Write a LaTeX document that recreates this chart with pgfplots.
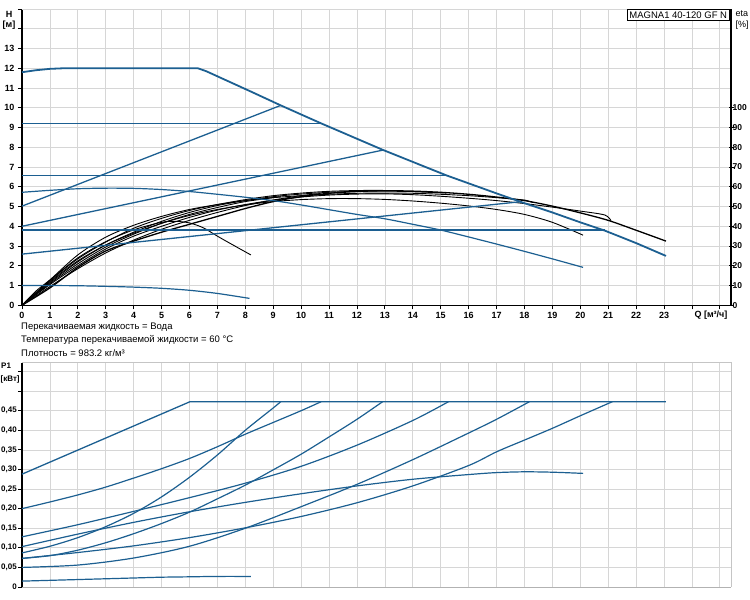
\documentclass[border=0pt]{standalone}
\usepackage{fontspec}
\setmainfont{Liberation Sans}
\usepackage{pgfplots}
\pgfplotsset{compat=1.18}
\definecolor{pblue}{RGB}{28,95,145}
\definecolor{gridc}{RGB}{214,214,214}
\pgfplotsset{
  base/.style={scale only axis, width=709pt, xmin=0, xmax=25.4,
    axis x line*=bottom, axis y line*=left,
    axis line style={black, line width=1.2pt, -},
    grid=major, major grid style={gridc, line width=0.7pt},
    tick style={black, line width=0.8pt}, major tick length=4pt, tick align=outside,
    ticklabel style={font=\fontsize{9}{10}\selectfont\bfseries},
    xtick={0,...,25}, clip=false},
  bl/.style={pblue, line width=1.3pt, sharp plot},
  bls/.style={pblue, line width=1.2pt, smooth, tension=0.5},
  bk/.style={black, line width=0.9pt, smooth, tension=0.5},
}
\begin{document}
\begin{tikzpicture}[x=1pt,y=1pt]
% ---------------- top chart ----------------
\begin{axis}[base, at={(22pt,294.7pt)}, anchor=origin, height=296.3pt,
  ymin=0, ymax=15, ytick={0,...,15},
  yticklabels={0,1,2,3,4,5,6,7,8,9,10,11,12,13,{},{}},
  xticklabels={0,1,2,3,4,5,6,7,8,9,10,11,12,13,14,15,16,17,18,19,20,21,22,23,{},{}},
  xticklabel style={yshift=1pt}]
% efficiency curves (eta/10)
\addplot[bk] coordinates {(0,0)(0.5,0.72)(1,1.28)(2,2.4)(3,3.22)(4,3.82)(5,4.2)(5.5,4.25)(6,4.17)(6.5,3.92)(7,3.5)(7.5,3.1)(8.2,2.55)};
\addplot[bk] coordinates {(0,0)(1,1.2)(2,2.25)(3,3.05)(4,3.65)(5,4.15)(6,4.55)(7,4.85)(8,5.08)(9,5.25)(10,5.35)(11,5.4)(12,5.4)(13,5.36)(14,5.28)(15,5.17)(16,5.03)(17,4.85)(18,4.6)(19,4.2)(20.1,3.55)};
\addplot[bk] coordinates {(0,0)(1,1.1)(2,2.1)(3,2.95)(4,3.6)(5,4.15)(6,4.6)(7,4.95)(8,5.25)(9.27,5.5)};
\addplot[bk] coordinates {(0,0)(1,0.95)(2,1.85)(3,2.65)(4,3.3)(5,3.85)(6,4.3)(7,4.7)(8,5.05)(9,5.33)(10,5.55)(10.7,5.66)};
\addplot[bk] coordinates {(0,0)(1,1.25)(2,2.35)(3,3.2)(4,3.9)(5,4.4)(6,4.8)(7,5.1)(8,5.35)(9,5.55)(10,5.68)(11,5.77)(12,5.81)(12.94,5.82)};
\addplot[bk] coordinates {(0,0)(1,1.15)(2,2.2)(3,3.05)(4,3.7)(5,4.25)(6,4.7)(7,5.05)(8,5.3)(9,5.5)(10,5.63)(11,5.72)(12,5.77)(13,5.78)(14,5.75)(15.2,5.68)};
\addplot[bk] coordinates {(0,0)(1,1.28)(2,2.55)(3,3.45)(4,4.05)(5,4.5)(6,4.85)(7,5.1)(8,5.3)(9,5.45)(10,5.55)(11,5.62)(12,5.67)(13,5.68)(14,5.67)(15,5.62)(16,5.55)(17,5.45)(17.6,5.38)(18.03,5.32)(18.3,5.2)};
\addplot[bk] coordinates {(0,0)(1,1.05)(2,2.0)(3,2.85)(4,3.5)(5,4.0)(6,4.45)(7,4.82)(8,5.1)(9,5.32)(10,5.48)(11,5.58)(12,5.63)(13,5.64)(14,5.6)(15,5.52)(16,5.42)(17,5.3)(18,5.15)(19,4.97)(20,4.77)(20.88,4.57)(21.1,4.28)};
\addplot[bk, line width=1.3pt] coordinates {(0,0)(1,0.88)(2,1.92)(3,2.75)(4,3.25)(5,3.7)(6,4.1)(7,4.5)(8,4.9)(9,5.25)(10,5.5)(11,5.67)(12,5.76)(13,5.8)(14,5.78)(15,5.72)(16,5.62)(17,5.48)(18,5.3)(19,5.02)(20,4.68)(21,4.3)(22,3.8)(23.07,3.25)};
% head curves
\addplot[bl, line width=1.8pt] coordinates {(0,11.8)(0.5,11.9)(1,11.97)(1.5,12.0)(6.3,12.0)(6.6,11.85)(8.2,10.82)(9.27,10.12)(10.7,9.22)(12.94,7.86)(15.2,6.58)(17.09,5.62)(18,5.17)(19,4.7)(20,4.2)(20.88,3.78)(22,3.15)(23.07,2.5)};
\addplot[bl, line width=1.5pt] coordinates {(0,9.2)(10.7,9.2)};
\addplot[bl, line width=1.5pt] coordinates {(0,6.56)(15.2,6.56)};
\addplot[bl, line width=1.5pt] coordinates {(0,3.8)(20.88,3.8)};
\addplot[bl] coordinates {(0,5.02)(9.27,10.12)};
\addplot[bl] coordinates {(0,4.0)(12.94,7.86)};
\addplot[bl] coordinates {(0,2.59)(17.9,5.25)};
\addplot[bls] coordinates {(0,5.72)(1,5.82)(2,5.9)(3,5.93)(4,5.92)(5,5.86)(6,5.76)(7,5.62)(8,5.47)(9,5.3)(10,5.08)(11,4.84)(12,4.6)(13,4.38)(14,4.1)(15,3.81)(16,3.46)(17,3.1)(18,2.73)(19,2.35)(20.1,1.92)};
\addplot[bls] coordinates {(0,1.0)(1,1.0)(2,0.99)(3,0.96)(4,0.92)(5,0.86)(6,0.76)(7,0.6)(8.15,0.35)};
\draw[gridc, line width=0.7pt] (rel axis cs:0,1) -- (rel axis cs:1,1);
\node[draw=black, line width=0.8pt, fill=white, anchor=north east, inner sep=2pt,
  font=\fontsize{9.5}{10}\selectfont] at ([xshift=-1.5pt,yshift=-0.5pt]rel axis cs:1,1) {MAGNA1 40-120 GF N};
\end{axis}
% eta axis
\begin{axis}[scale only axis, width=709pt, height=296.3pt, at={(22pt,294.7pt)}, anchor=origin,
  xmin=0, xmax=25.4, ymin=0, ymax=150, axis x line=none, axis y line*=right,
  axis line style={black, line width=1.2pt, -},
  ytick={0,10,...,100}, yticklabels={0,10,20,30,40,50,60,70,80,90,100},
  tick style={black, line width=0.8pt}, major tick length=5pt, tick align=center,
  ticklabel style={font=\fontsize{8.5}{10}\selectfont\bfseries, inner sep=0.5pt}, yticklabel style={xshift=-1.5pt}]
\addplot[draw=none] coordinates {(0,0)(1,1)};
\end{axis}
% ---------------- bottom chart ----------------
\begin{axis}[base, at={(22pt,13pt)}, anchor=origin, height=224.3pt,
  ymin=0, ymax=0.5725, ytick={0,0.05,0.1,0.15,0.2,0.25,0.3,0.35,0.4,0.45,0.5,0.55},
  yticklabels={0,{0,05},{0,10},{0,15},{0,20},{0,25},{0,30},{0,35},{0,40},{0,45},{},{}},
  yticklabel style={font=\fontsize{8}{10}\selectfont\bfseries, inner sep=1pt},
  xticklabels={}, x axis line style={gray!60, line width=1pt}, xtick style={draw=none}]
\addplot[bl] coordinates {(0,0.288)(6.02,0.473)(23.07,0.473)};
\addplot[bls] coordinates {(0,0.2)(1,0.217)(2,0.235)(3,0.255)(4,0.278)(5,0.302)(6,0.328)(7,0.358)(8,0.39)(9,0.42)(10,0.45)(10.72,0.473)};
\addplot[bls] coordinates {(0,0.128)(2,0.159)(4,0.193)(6,0.228)(8,0.265)(10,0.308)(12,0.362)(14,0.425)(15.28,0.473)};
\addplot[bls] coordinates {(0,0.103)(2,0.135)(4,0.165)(6,0.192)(8,0.216)(10,0.238)(12,0.258)(14,0.275)(16,0.287)(17,0.292)(18,0.294)(19,0.293)(20.1,0.29)};
\addplot[bls] coordinates {(0,0.087)(1,0.104)(2,0.126)(3,0.154)(4,0.188)(5,0.23)(6,0.28)(7,0.337)(8,0.4)(9,0.457)(9.27,0.473)};
\addplot[bls] coordinates {(0,0.073)(1,0.08)(2,0.094)(3,0.113)(4,0.136)(5,0.162)(6,0.191)(7,0.225)(8,0.26)(9,0.299)(10,0.339)(11,0.383)(12,0.428)(12.92,0.473)};
\addplot[bls] coordinates {(0,0.073)(2,0.088)(4,0.105)(6,0.126)(8,0.151)(10,0.18)(12,0.215)(14,0.258)(16,0.31)(17,0.345)(18,0.375)(19,0.405)(20,0.437)(21.15,0.473)};
\addplot[bls] coordinates {(0,0.05)(2,0.056)(4,0.074)(6,0.104)(8,0.15)(10,0.205)(12,0.262)(14,0.325)(16,0.393)(17,0.428)(18.18,0.473)};
\addplot[bls] coordinates {(0,0.015)(1,0.017)(2,0.019)(3,0.021)(4,0.023)(5,0.025)(6,0.026)(7,0.027)(8.2,0.027)};
\draw[gridc!80!gray, line width=0.8pt] (rel axis cs:0,1) -- (rel axis cs:1,1) -- (rel axis cs:1,0);
\end{axis}
% ---------------- texts ----------------
\begin{scope}[font=\fontsize{9.5}{11}\selectfont]
\node[anchor=west, inner sep=0] at (21,272.7) {Перекачиваемая жидкость = Вода};
\node[anchor=west, inner sep=0] at (21,260) {Температура перекачиваемой жидкости = 60 °C};
\node[anchor=west, inner sep=0] at (21,247.3) {Плотность = 983.2 кг/м³};
\end{scope}
\begin{scope}[font=\fontsize{9}{10}\selectfont\bfseries]
\node[inner sep=0] at (9,586) {H};
\node[inner sep=0] at (9,575) {[м]};
\node[inner sep=0] at (711,285) {Q [м³/ч]};
\end{scope}
\begin{scope}[font=\fontsize{8}{10}\selectfont\bfseries]
\node[inner sep=0, anchor=west] at (1,234) {P1};
\node[inner sep=0, anchor=west] at (0.5,221) {[кВт]};
\end{scope}
\begin{scope}[font=\fontsize{9}{10}\selectfont]
\node[inner sep=0, anchor=west] at (735.5,586) {eta};
\node[inner sep=0, anchor=west] at (735.5,575) {[\%]};
\end{scope}
\pgfresetboundingbox
\useasboundingbox (0,0) rectangle (750,600);
\end{tikzpicture}
\end{document}
